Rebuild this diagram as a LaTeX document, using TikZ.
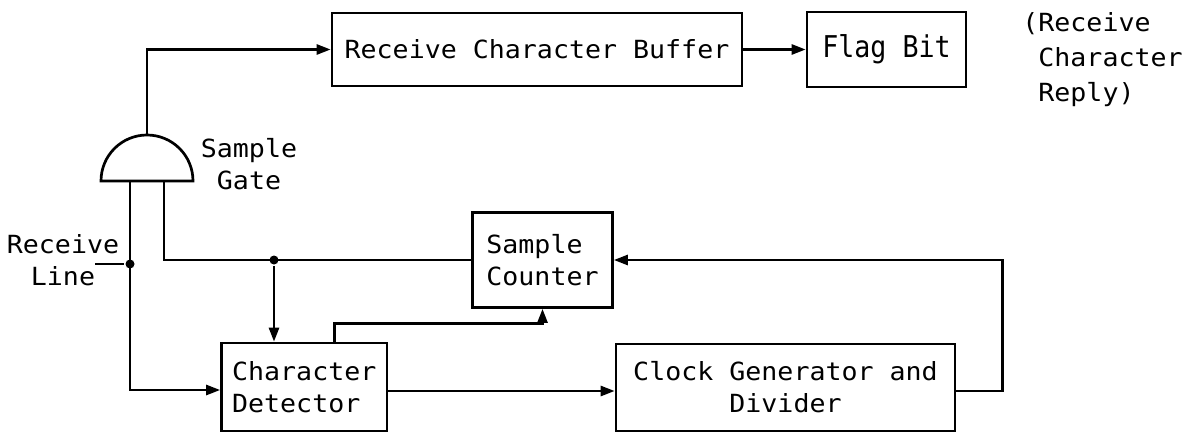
\documentclass[tikz,border=0pt]{standalone}
\usepackage{fontspec}
\setmainfont{DejaVu Sans Mono}[FakeStretch=1.065]
\usetikzlibrary{arrows.meta}
\begin{document}
\begin{tikzpicture}[x=1pt,y=-1pt,
  line width=2.7pt,
  every node/.style={font=\fontsize{25}{32}\selectfont, inner sep=0pt},
  blk/.style={draw, rectangle},
  flow/.style={-{Triangle[length=14pt,width=10pt]}},
  junc/.style={circle, fill, inner sep=0pt, minimum size=9pt}]
\useasboundingbox (0,0) rectangle (1185,433);

% blocks
\node[blk, minimum width=410pt, minimum height=73pt] (rcb) at (537,49.5) {Receive Character Buffer};
\node[blk, minimum width=159pt, minimum height=75pt] (flag) at (886.5,49.5) {\scalebox{1}[1.2]{Flag Bit}};
\node[blk, minimum width=140pt, minimum height=95pt, align=left] (sc) at (542.5,260) {Sample\\Counter};
\node[blk, minimum width=165.5pt, minimum height=88pt, align=left] (cd) at (304.25,387) {Character\\Detector};
\node[blk, minimum width=339pt, minimum height=87pt, align=center] (clk) at (785.5,387.5) {Clock Generator and\\Divider};

% labels
\node[align=center] (sglbl) at (249,164) {Sample\\Gate};
\node[align=center] (rllbl) at (63,260) {Receive\\Line};
\node[align=left, anchor=north west, font=\fontsize{25}{35}\selectfont] (reply) at (1021,11) {(Receive\\\phantom{(}Character\\\phantom{(}Reply)};

% sample gate
\coordinate (gout) at (147,135);
\coordinate (gin1) at (130,181);
\coordinate (gin2) at (164,181);
\draw (101,181) arc[start angle=180, end angle=0, radius=46pt] -- cycle;

% junctions
\coordinate (rl) at (95,264);
\node[junc] (j1) at (130,264) {};
\node[junc] (j2) at (274,260) {};

% connectors
\draw[flow] (gout) |- (rcb.west);
\draw[flow] (rcb.east) -- (flag.west);
\draw (rl) -- (j1);
\draw[flow] (gin1) |- ([yshift=-3pt]cd.west);
\draw (gin2) |- (sc.west);
\draw[flow] (j2) -- (j2 |- cd.north);
\draw[flow] ([xshift=30pt]cd.north) -- ++(0,-18) -| (sc.south);
\draw[flow] ([yshift=-4pt]cd.east) -- ([yshift=-4pt]cd.east -| clk.west);
\draw[flow] ([yshift=-3.5pt]clk.east) -- ++(46,0) |- (sc.east);
\end{tikzpicture}
\end{document}
